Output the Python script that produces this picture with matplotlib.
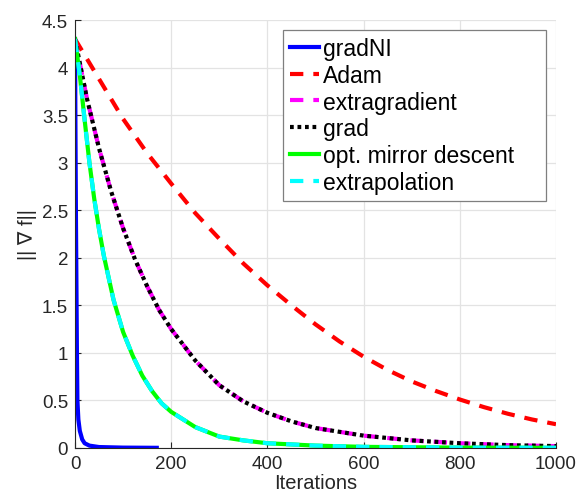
import numpy as np
import matplotlib
matplotlib.use("Agg")
import matplotlib.pyplot as plt
from matplotlib.ticker import FormatStrFormatter

plt.rcParams['font.family'] = ['Liberation Sans', 'DejaVu Sans']

# values
gradni_x = [0, 1, 2, 3, 4, 5, 7, 10, 15, 20, 30, 50, 100, 170]
gradni_y = [4.3, 3.3, 2.4, 1.7, 1.0, 0.5, 0.3, 0.18, 0.09, 0.05, 0.025, 0.01, 0.004, 0.002]

adam_x = [0, 50, 100, 150, 200, 250, 300, 350, 400, 450, 500, 550, 600, 650, 700,
          750, 800, 850, 900, 950, 1000]
adam_y = [4.30, 3.88, 3.46, 3.10, 2.78, 2.47, 2.20, 1.94, 1.71, 1.50, 1.30, 1.12, 0.96,
          0.82, 0.70, 0.60, 0.51, 0.43, 0.36, 0.30, 0.25]

grad_x = [0, 25, 50, 75, 100, 125, 150, 175, 200, 250, 300, 350, 400, 450, 500, 600,
          700, 800, 900, 1000]
grad_y = [4.30, 3.67, 3.15, 2.70, 2.31, 1.98, 1.70, 1.45, 1.25, 0.92, 0.66, 0.49, 0.37,
          0.28, 0.21, 0.13, 0.08, 0.05, 0.03, 0.02]
extragrad_x = grad_x
extragrad_y = grad_y

omd_x = [0, 10, 20, 30, 40, 50, 60, 80, 100, 120, 140, 160, 180, 200, 250, 300, 350,
         400, 500, 600, 800, 1000]
omd_y = [4.30, 3.92, 3.45, 3.00, 2.62, 2.30, 2.02, 1.56, 1.22, 0.97, 0.76, 0.60, 0.47,
         0.38, 0.22, 0.12, 0.08, 0.05, 0.025, 0.012, 0.004, 0.002]
extrap_x = omd_x
extrap_y = omd_y

fig = plt.figure(figsize=(5.77, 5.02), dpi=100)
ax = fig.add_axes([75 / 577, 1 - 449 / 502, 481 / 577, 428 / 502])

lw = 3
ax.plot(gradni_x, gradni_y, color='#0000ff', lw=lw, label='gradNI')
ax.plot(adam_x, adam_y, color='#ff0000', lw=lw, dashes=(3.2, 2.4), label='Adam')
ax.plot(extragrad_x, extragrad_y, color='#ff00ff', lw=lw, dashes=(3.2, 2.4),
        label='extragradient')
ax.plot(grad_x, grad_y, color='black', lw=lw, dashes=(0.9, 0.9), label='grad')
ax.plot(omd_x, omd_y, color='#00ff00', lw=lw, label='opt. mirror descent')
ax.plot(extrap_x, extrap_y, color='#00ffff', lw=lw, dashes=(3.2, 2.4),
        label='extrapolation')

ax.set_xlim(0, 1000)
ax.set_ylim(0, 4.5)
ax.set_xticks(np.arange(0, 1001, 200))
ax.set_yticks(np.arange(0, 4.51, 0.5))
ax.yaxis.set_major_formatter(FormatStrFormatter('%g'))
ax.grid(True, color='#e3e3e3', lw=0.9)
ax.set_axisbelow(True)
for s in ['top', 'right']:
    ax.spines[s].set_visible(False)
for s in ['left', 'bottom']:
    ax.spines[s].set_color('#262626')
    ax.spines[s].set_linewidth(0.8)
ax.tick_params(direction='in', length=4, width=0.8, color='#262626',
               labelsize=13.5, labelcolor='#262626', pad=5)

ax.set_xlabel('Iterations', fontsize=14.5, color='#262626', labelpad=1)
ax.set_ylabel('|| ∇ f||', fontsize=14.5, color='#262626')
ax.yaxis.set_label_coords(-0.08, 0.5)

# legend box stretched to the width seen in the reference
leg = ax.legend(loc='upper left', bbox_to_anchor=(0.432, 0.0, 0.547, 0.977),
                mode='expand', borderaxespad=0,
                fontsize=16.5, handlelength=1.3, handletextpad=0.15, labelspacing=0.17,
                borderpad=0.3, fancybox=False, framealpha=1, edgecolor='#7f7f7f')
leg.get_frame().set_linewidth(0.9)

fig.savefig('out.png', dpi=100)
